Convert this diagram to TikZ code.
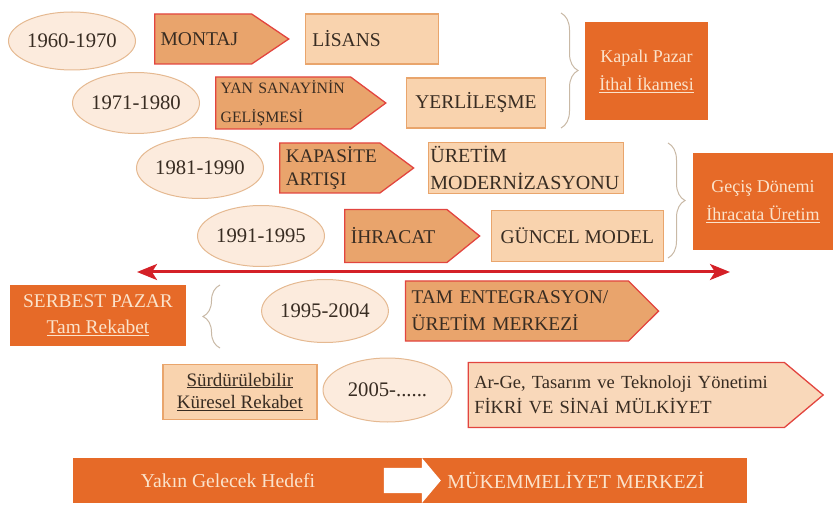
\documentclass[tikz,border=0pt]{standalone}
\usepackage{fontspec}
\setmainfont{Liberation Serif}
\usepackage{xcolor}
\usepackage{tikz}
\usetikzlibrary{positioning,arrows.meta,shapes.geometric,shapes.symbols,shapes.arrows,decorations.pathreplacing}

\definecolor{koyu}{HTML}{E66A28}
\definecolor{acikyazi}{HTML}{FBE3CB}
\definecolor{turuncu}{HTML}{E9A46C}
\definecolor{kirmizi}{HTML}{E2453F}
\definecolor{krem}{HTML}{F9D3AE}
\definecolor{kremcizgi}{HTML}{E9A56C}
\definecolor{acikkrem}{HTML}{F9D8BA}
\definecolor{elips}{HTML}{FCEBDD}
\definecolor{elipscizgi}{HTML}{E5B991}
\definecolor{yazi}{HTML}{382C22}
\definecolor{parantezrenk}{HTML}{C9B9A6}
\definecolor{okrenk}{HTML}{D42027}

\begin{document}
\begin{tikzpicture}[x=1pt,y=-1pt,font=\fontsize{19.5}{24}\selectfont,text=yazi,
  yil/.style={ellipse,draw=elipscizgi,fill=elips,line width=1pt,minimum width=127pt,minimum height=61pt,inner sep=0pt,font=\fontsize{20.7}{24}\selectfont},
  adim/.style={signal,signal to=east,draw=kirmizi,fill=turuncu,line width=1.3pt,align=left,inner xsep=6pt,inner ysep=0pt},
  kutu/.style={rectangle,draw=kremcizgi,fill=krem,line width=1.2pt,align=left,inner xsep=7pt,inner ysep=0pt},
  donem/.style={rectangle,fill=koyu,text=acikyazi,align=center,inner sep=0pt,font=\fontsize{18}{28}\selectfont},
  parantez/.style={draw=parantezrenk,line width=1pt,decorate,decoration={brace,amplitude=17pt}},
  >={Stealth[length=20pt,width=16pt,inset=5pt]}]
\useasboundingbox (0,0) rectangle (833,505);

% 1960-1970
\node[yil,minimum height=58pt] (y1) at (72,41) {1960-1970};
\node[adim,right=18pt of y1,yshift=2pt,minimum width=134pt,minimum height=50pt,signal pointer angle=68,text width=85pt] (montaj) {MONTAJ};
\node[kutu,right=15pt of montaj,minimum height=50pt,text width=119pt] (lisans) {LİSANS};

% 1971-1980
\node[yil] (y2) at (136,103) {1971-1980};
\node[adim,right=15pt of y2,minimum width=170pt,minimum height=52pt,signal pointer angle=73,inner xsep=2pt,text width=131pt,font=\fontsize{15.8}{29}\selectfont] (yan) {\hspace{3pt}YAN SANAYİNİN\\\hspace{3pt}GELİŞMESİ};
\node[kutu,right=19pt of yan,minimum width=139pt,minimum height=50pt,align=center] (yerli) {YERLİLEŞME};

% 1981-1990
\node[yil] (y3) at (200,168) {1981-1990};
\node[adim,right=15pt of y3,minimum width=134pt,minimum height=50pt,signal pointer angle=73,text width=88pt,font=\fontsize{19.2}{23}\selectfont] (kapasite) {KAPASİTE\\ARTIŞI};
\node[kutu,right=13pt of kapasite,minimum height=51pt,text width=191pt,inner xsep=2pt,font=\fontsize{20}{27}\selectfont] (uretim) {ÜRETİM\\MODERNİZASYONU};

% 1991-1995
\node[yil] (y4) at (261,236) {1991-1995};
\node[adim,right=19pt of y4,minimum width=135pt,minimum height=53pt,signal pointer angle=78,text width=90pt] (ihracat) {İHRACAT};
\node[kutu,right=10pt of ihracat,minimum width=172pt,minimum height=51pt,align=center] (guncel) {GÜNCEL MODEL};

% donemler
\node[donem,minimum width=123pt,minimum height=98pt] (kapali) at (646.5,71) {Kapalı Pazar\\\underline{İthal İkamesi}};
\node[donem,minimum width=140pt,minimum height=97pt] (gecis) at (763,201.5) {Geçiş Dönemi\\\underline{İhracata Üretim}};
\node[donem,minimum width=176pt,minimum height=61pt,font=\fontsize{19.4}{26}\selectfont] (serbest) at (98,315.5) {SERBEST PAZAR\\\underline{Tam Rekabet}};

\coordinate (p1a) at (561,13); \coordinate (p1b) at (561,128);
\coordinate (p2a) at (668,143); \coordinate (p2b) at (668,258);
\coordinate (p3a) at (220,348); \coordinate (p3b) at (220,285);
\draw[parantez] (p1a) -- (p1b);
\draw[parantez] (p2a) -- (p2b);
\draw[parantez] (p3a) -- (p3b);

\coordinate (sol) at (137,272); \coordinate (sag) at (730,272);
\draw[<->,draw=okrenk,fill=okrenk,line width=3pt] (sol) -- (sag);

% 1995-2004
\node[yil,minimum width=126pt,minimum height=63pt] (y5) at (325,311) {1995-2004};
\node[adim,right=16pt of y5,minimum width=253pt,minimum height=60pt,signal pointer angle=90,text width=211pt,font=\fontsize{19.4}{27}\selectfont] (tam) {TAM ENTEGRASYON/\\ÜRETİM MERKEZİ};

% 2005-
\node[yil,minimum width=129pt,minimum height=64pt] (y6) at (387.5,390) {2005-......};
\node[adim,fill=acikkrem,right=15pt of y6,yshift=-5pt,minimum width=355pt,minimum height=65pt,signal pointer angle=80,text width=304pt,font=\fontsize{18.5}{25}\selectfont] (arge) {Ar-Ge, Tasarım ve Teknoloji Yönetimi\\FİKRİ VE SİNAİ MÜLKİYET};
\node[kutu,left=5pt of y6,yshift=-2pt,minimum width=154pt,minimum height=55pt,align=center,font=\fontsize{19}{23}\selectfont] (surdur) {\underline{Sürdürülebilir}\\\underline{Küresel Rekabet}};

% hedef
\node[rectangle,fill=koyu,minimum width=674pt,minimum height=45pt] (bar) at (410,480.5) {};
\node[text=acikyazi,font=\fontsize{19.7}{24}\selectfont] (hedef) at (228,480.5) {Yakın Gelecek Hedefi};
\node[single arrow,fill=white,minimum height=57pt,inner xsep=0pt,inner ysep=12.5pt,single arrow head extend=10pt,single arrow tip angle=100] (beyazok) at (407,480.5) {};
\node[text=acikyazi,font=\fontsize{19.9}{24}\selectfont] (mukemmel) at (576,480.5) {MÜKEMMELİYET MERKEZİ};
\end{tikzpicture}
\end{document}
